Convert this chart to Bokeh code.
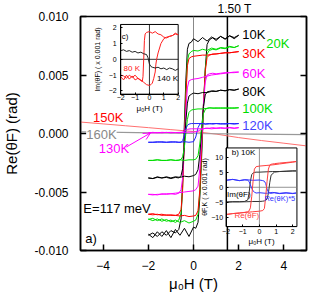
import numpy as np
from bokeh.plotting import figure
from bokeh.models import (Range1d, LinearAxis, FixedTicker, PrintfTickFormatter,
                          Label, Span, Arrow, OpenHead, CustomLabelingPolicy)
from bokeh.embed import file_html
from bokeh.resources import INLINE

FONT = "Liberation Sans"

# ---------------- panel a): Re(theta_F) loops, values in 0.001 rad ----------------
H_DN = [2.0, 1.8, 1.6, 1.4, 1.2, 1.0, 0.8, 0.6, 0.4, 0.2, 0.0, -0.1, -0.2, -0.27, -0.34,
        -0.41, -0.48, -0.55, -0.65, -0.8, -1.0, -1.2, -1.4, -1.6, -1.8, -2.0]
H_UP = [-2.0, -1.8, -1.6, -1.4, -1.2, -1.0, -0.8, -0.6, -0.4, -0.2, 0.0, 0.1, 0.2, 0.28, 0.36,
        0.44, 0.52, 0.6, 0.7, 0.85, 1.0, 1.2, 1.4, 1.6, 1.8, 2.0]

Y10_DN = [8.4, 8.1, 8.35, 8.05, 8.3, 7.95, 8.25, 7.9, 8.2, 7.85, 8.1, 7.8, 7.7, 7.2, 4.5,
          0.5, -4.0, -7.3, -8.2, -8.5, -8.3, -8.7, -8.4, -8.8, -8.5, -8.7]
Y10_UP = [-8.6, -8.9, -8.4, -8.8, -8.3, -8.9, -8.2, -8.7, -8.1, -8.8, -8.0, -8.1, -7.6, -5.5, -2.0,
          2.0, 5.5, 7.6, 8.0, 8.2, 8.05, 8.3, 8.1, 8.35, 8.2, 8.4]
Y20_DN = [7.5, 7.35, 7.45, 7.3, 7.35, 7.2, 7.3, 7.1, 7.2, 7.05, 7.1, 7.0, 6.8, 6.2, 3.5,
          -0.5, -4.5, -6.8, -7.4, -7.6, -7.4, -7.5, -7.3, -7.45, -7.25, -7.35]
Y20_UP = [-7.3, -7.45, -7.3, -7.5, -7.35, -7.55, -7.4, -7.6, -7.45, -7.65, -7.5, -7.4, -6.9, -5.0, -1.5,
          2.5, 5.5, 6.8, 7.1, 7.2, 7.15, 7.3, 7.25, 7.4, 7.35, 7.5]
Y30_DN = [7.0, 6.95, 6.9, 6.9, 6.85, 6.8, 6.75, 6.7, 6.7, 6.65, 6.6, 6.55, 6.4, 5.8, 3.0,
          -1.0, -4.8, -6.5, -6.9, -7.0, -6.95, -7.0, -6.9, -6.95, -6.85, -6.9]
Y30_UP = [-6.9, -6.95, -6.9, -7.0, -6.95, -7.0, -7.0, -7.05, -7.0, -7.1, -7.05, -7.0, -6.6, -4.8, -1.2,
          2.5, 5.3, 6.5, 6.7, 6.8, 6.8, 6.85, 6.9, 6.9, 6.95, 7.0]
Y60_DN = [5.25, 5.2, 5.2, 5.15, 5.1, 5.05, 5.0, 4.9, 4.8, 4.7, 4.65, 4.6, 4.5, 3.9, 2.0,
          -1.0, -3.8, -4.8, -5.1, -5.2, -5.15, -5.2, -5.15, -5.25, -5.2, -5.2]
Y60_UP = [-5.2, -5.25, -5.2, -5.2, -5.15, -5.15, -5.1, -5.05, -5.0, -4.95, -4.9, -4.8, -4.5, -3.0, -0.5,
          2.5, 4.4, 5.0, 5.1, 5.15, 5.1, 5.15, 5.2, 5.2, 5.25, 5.25]
Y80_DN = [3.8, 3.7, 3.75, 3.65, 3.7, 3.6, 3.6, 3.5, 3.5, 3.4, 3.45, 3.35, 3.2, 2.6, 1.0,
          -1.2, -3.0, -3.6, -3.8, -3.75, -3.85, -3.75, -3.8, -3.7, -3.85, -3.8]
Y80_UP = [-3.8, -3.85, -3.75, -3.8, -3.7, -3.8, -3.7, -3.75, -3.65, -3.7, -3.6, -3.5, -3.1, -1.8, 0.3,
          2.3, 3.3, 3.55, 3.6, 3.65, 3.6, 3.7, 3.65, 3.75, 3.7, 3.8]
Y100_DN = [2.2, 2.15, 2.2, 2.15, 2.2, 2.15, 2.2, 2.15, 2.1, 2.1, 2.05, 2.0, 1.8, 1.2, 0.0,
           -1.3, -2.0, -2.2, -2.3, -2.3, -2.25, -2.3, -2.3, -2.25, -2.3, -2.3]
Y100_UP = [-2.3, -2.3, -2.25, -2.3, -2.3, -2.25, -2.3, -2.25, -2.3, -2.25, -2.25, -2.2, -1.9, -0.9, 0.6,
           1.7, 2.05, 2.15, 2.2, 2.15, 2.2, 2.15, 2.2, 2.15, 2.2, 2.2]
Y120_DN = [0.85, 0.8, 0.85, 0.85, 0.8, 0.85, 0.85, 0.8, 0.85, 0.85, 0.85, 0.85, 0.8, 0.7, 0.4,
           -0.2, -0.6, -0.75, -0.75, -0.7, -0.75, -0.75, -0.7, -0.75, -0.75, -0.75]
Y120_UP = [-0.75, -0.75, -0.7, -0.75, -0.75, -0.7, -0.75, -0.75, -0.7, -0.75, -0.7, -0.3, 0.5, 0.8, 0.85,
           0.85, 0.8, 0.85, 0.85, 0.8, 0.85, 0.85, 0.8, 0.85, 0.85, 0.85]
Y130_DN = [0.5, 0.45, 0.5, 0.45, 0.45, 0.45, 0.4, 0.45, 0.4, 0.4, 0.4, 0.4, 0.38, 0.35, 0.28,
           0.2, 0.12, 0.08, 0.05, 0.08, 0.05, 0.1, 0.05, 0.08, 0.05, 0.05]
Y130_UP = [0.05, 0.1, 0.05, 0.1, 0.08, 0.1, 0.08, 0.1, 0.1, 0.12, 0.12, 0.15, 0.2, 0.28, 0.35,
           0.4, 0.45, 0.45, 0.45, 0.5, 0.45, 0.5, 0.45, 0.5, 0.45, 0.5]

H_150 = [-5, -4, -3, -2, -1, 0, 1, 2, 3, 4, 5]
Y_150 = [0.98, 0.82, 0.66, 0.5, 0.33, 0.17, -0.05, -0.35, -0.6, -0.83, -1.06]
H_160 = [-5, -2.5, 0, 2.5, 5]
Y_160 = [0.15, 0.08, 0.0, -0.05, -0.1]

MAIN_SERIES = [
    ("10K", Y10_DN, Y10_UP, "#000000"),
    ("20K", Y20_DN, Y20_UP, "#00dd00"),
    ("30K", Y30_DN, Y30_UP, "#ff0000"),
    ("60K", Y60_DN, Y60_UP, "#ff00ff"),
    ("80K", Y80_DN, Y80_UP, "#000000"),
    ("100K", Y100_DN, Y100_UP, "#00dd00"),
    ("120K", Y120_DN, Y120_UP, "#2222ff"),
    ("130K", Y130_DN, Y130_UP, "#ff00ff"),
]
MARK_FIELD = 1.5
X_TICKS = [-4, -2, 0, 2, 4]
Y_TICKS = [-0.010, -0.005, 0.0, 0.005, 0.010]

# ---------------- inset b): 10 K, values in 0.001 rad ----------------
B_H_DN = [2.2, 2.0, 1.6, 1.2, 0.8, 0.4, 0.0, -0.2, -0.3, -0.38, -0.46, -0.54, -0.62, -0.7, -0.9, -1.2, -1.6, -2.0]
B_H_UP = [-2.0, -1.6, -1.2, -0.8, -0.4, 0.0, 0.2, 0.3, 0.38, 0.46, 0.54, 0.62, 0.7, 0.9, 1.2, 1.6, 2.0, 2.2]
B_REF_DN = [8.5, 8.3, 8.0, 7.7, 7.4, 7.2, 7.0, 6.8, 6.0, 2.0, -3.0, -6.8, -7.8, -8.1, -8.3, -8.5, -8.7, -9.0]
B_REF_UP = [-9.0, -8.7, -8.5, -8.3, -8.1, -7.9, -7.7, -7.0, -3.0, 2.0, 6.0, 7.3, 7.6, 7.8, 8.0, 8.2, 8.4, 8.5]
B_IMF_DN = [5.4, 5.4, 5.3, 5.2, 5.2, 5.1, 5.0, 5.0, 4.9, 4.7, 4.2, 2.0, -2.0, -4.2, -4.7, -4.8, -4.8, -4.9]
B_IMF_UP = [-4.9, -4.8, -4.8, -4.8, -4.7, -4.7, -4.6, -4.5, -4.3, -3.8, -2.0, 1.5, 4.0, 5.0, 5.2, 5.3, 5.4, 5.4]
B_REK_DN = [-1.9, -2.1, -1.8, -2.0, -1.7, -2.0, -1.8, -1.9, -1.6, -1.2, -0.4, 0.8, 1.9, 2.3, 2.5, 2.2, 2.6, 2.3]
B_REK_UP = [2.3, 2.6, 2.2, 2.5, 2.3, 2.4, 2.2, 2.0, 1.2, -0.6, -1.6, -1.9, -2.0, -1.8, -2.1, -1.9, -2.0, -1.9]
B_XTICKS = [-2, -1, 0, 1, 2]
B_YTICKS = [-10, -5, 0, 5, 10]

# ---------------- inset c): Im(theta_F), values in 0.001 rad ----------------
C80_H_UP = [-2.0, -1.8, -1.6, -1.4, -1.2, -1.0, -0.8, -0.6, -0.5, -0.45, -0.4, -0.35, -0.3, -0.2,
            0.0, 0.2, 0.4, 0.6, 0.8, 1.0, 1.2, 1.4, 1.6, 1.8, 2.0]
C80_Y_UP = [-1.1, -1.3, -1.0, -1.25, -1.05, -1.3, -1.2, -1.35, -1.4, -1.1, 0.0, 1.2, 1.6, 1.7,
            1.75, 1.65, 1.75, 1.6, 1.55, 1.4, 1.35, 1.45, 1.5, 1.65, 1.55]
C80_H_DN = [2.0, 1.8, 1.6, 1.4, 1.2, 1.0, 0.8, 0.6, 0.5, 0.45, 0.4, 0.3, 0.2, 0.1,
            0.0, -0.2, -0.4, -0.6, -0.8, -1.0, -1.2, -1.4, -1.6, -1.8, -2.0]
C80_Y_DN = [1.55, 1.6, 1.5, 1.45, 1.4, 1.3, 1.0, 0.4, 0.0, -0.3, -0.8, -1.2, -1.5, -1.6,
            -1.65, -1.6, -1.45, -1.3, -1.2, -1.0, -1.15, -1.0, -1.2, -1.05, -1.0]
C140_H = [-2.0, -1.8, -1.6, -1.4, -1.2, -1.0, -0.8, -0.6, -0.4, -0.2, -0.1, 0.0, 0.1, 0.2,
          0.4, 0.6, 0.8, 1.0, 1.2, 1.4, 1.6, 1.8, 2.0]
C140_Y = [0.55, 0.6, 0.5, 0.55, 0.45, 0.5, 0.4, 0.45, 0.35, 0.3, 0.1, -0.3, -0.45, -0.5,
          -0.55, -0.5, -0.6, -0.55, -0.65, -0.55, -0.6, -0.7, -0.6]
C_TICKS = [-2, -1, 0, 1, 2]

MRAD = 1e-3

# ---------------- layout (picture pixels = figure pixels) ----------------
W, H = 312, 296
FX0, FX1, FY_TOP, FY_BOT = 75, 311, 15, 250
XR, YR = (-5.0, 5.0), (-0.010, 0.010)
C_XLIM, C_YLIM = (-2.0, 2.0), (-2.2, 2.2)
C_BOX = (117, 177, 93, 23)      # left, right, bottom, top
B_XLIM, B_YLIM = (-2.0, 2.25), (-13.0, 13.0)
B_BOX = (227, 301, 226, 147)


def px2x(px):
    return XR[0] + (px - FX0) * (XR[1] - XR[0]) / (FX1 - FX0)


def px2y(py):
    return YR[1] - (py - FY_TOP) * (YR[1] - YR[0]) / (FY_BOT - FY_TOP)


def extra_range(lo, hi, p_lo, p_hi, f_lo, f_hi):
    s = (hi - lo) / (p_hi - p_lo)
    return Range1d(start=lo + (f_lo - p_lo) * s, end=lo + (f_hi - p_lo) * s)


p = figure(width=W, height=H, output_backend="svg", toolbar_location=None,
           x_range=Range1d(*XR), y_range=Range1d(*YR),
           min_border_left=FX0, min_border_right=W - FX1,
           min_border_top=FY_TOP, min_border_bottom=H - FY_BOT,
           background_fill_color="white", border_fill_color="white")
p.grid.visible = False
p.outline_line_color = "black"
p.outline_line_width = 1.5

# "1.50 T" marker caption above the frame
p.title.text = "1.50 T"
p.title.text_font = FONT
p.title.text_font_size = "12px"
p.title.text_font_style = "normal"
p.title.text_color = "black"
p.title.align = "left"
p.title.offset = 212 - FX0
p.title.standoff = 0
p.title.vertical_align = "middle"

p.extra_x_ranges = {
    "cx": extra_range(C_XLIM[0], C_XLIM[1], C_BOX[0], C_BOX[1], FX0, FX1),
    "bx": extra_range(B_XLIM[0], B_XLIM[1], B_BOX[0], B_BOX[1], FX0, FX1),
}
p.extra_y_ranges = {
    "cy": extra_range(C_YLIM[0], C_YLIM[1], C_BOX[2], C_BOX[3], FY_BOT, FY_TOP),
    "by": extra_range(B_YLIM[0], B_YLIM[1], B_BOX[2], B_BOX[3], FY_BOT, FY_TOP),
}


def style_axis(ax, size, standoff, tick_in, lw=1.5):
    ax.axis_line_color = "black"
    ax.axis_line_width = lw
    ax.major_tick_line_color = "black"
    ax.major_tick_line_width = lw
    ax.major_tick_in = tick_in
    ax.major_tick_out = 0
    ax.minor_tick_line_color = None
    ax.major_label_text_font = FONT
    ax.major_label_text_font_size = f"{size}px"
    ax.major_label_text_color = "black"
    ax.major_label_standoff = standoff
    ax.axis_label_text_font = FONT
    ax.axis_label_text_font_style = "normal"
    ax.axis_label_text_color = "black"


xa = p.xaxis[0]
xa.ticker = FixedTicker(ticks=X_TICKS)
style_axis(xa, 12, 10, 6)
xa.axis_label = "μ₀H (T)"
xa.axis_label_text_font_size = "15px"
xa.axis_label_standoff = 2

ya = p.yaxis[0]
ya.ticker = FixedTicker(ticks=Y_TICKS)
ya.formatter = PrintfTickFormatter(format="%.3f")
style_axis(ya, 12, 12, 6)
ya.axis_label = "Re(θF) (rad)"
ya.axis_label_text_font_size = "15px"
ya.axis_label_standoff = 11

NO_LABELS = CustomLabelingPolicy(code="return new Set()")
right = LinearAxis(ticker=FixedTicker(ticks=Y_TICKS), major_label_policy=NO_LABELS)
style_axis(right, 1, 0, 6)
p.add_layout(right, "right")

p.add_layout(Span(location=0, dimension="height", line_color="#888888", line_width=1, level="underlay"))
p.add_layout(Span(location=MARK_FIELD, dimension="height", line_color="black", line_width=1.5, level="underlay"))

# main data
p.line(H_150, np.array(Y_150) * MRAD, line_color="#ff7070", line_width=1)
p.line(H_160, np.array(Y_160) * MRAD, line_color="#999999", line_width=1.2)
for name, ydn, yup, col in MAIN_SERIES:
    p.line(H_DN, np.array(ydn) * MRAD, line_color=col, line_width=1)
    p.line(H_UP, np.array(yup) * MRAD, line_color=col, line_width=1)


def label(text, x, y, color="black", size=13, xr="default", yr="default", align="left", bg=None,
          **kw):
    lb = Label(x=x, y=y, text=text, text_font=FONT, text_font_size=f"{size}px", text_color=color,
               text_align=align, text_baseline="middle", x_range_name=xr, y_range_name=yr, **kw)
    if bg is not None:
        lb.background_fill_color = bg
    p.add_layout(lb)


label("10K", px2x(244), px2y(33))
label("20K", px2x(269), px2y(42), "#00dd00")
label("30K", px2x(244), px2y(52), "#ff0000")
label("60K", px2x(244), px2y(72), "#ff00ff")
label("80K", px2x(244), px2y(90))
label("100K", px2x(244), px2y(107), "#00dd00")
label("120K", px2x(244), px2y(124), "#4444ff")
label("150K", px2x(88), px2y(116), "#ff0000")
label("160K", px2x(81), px2y(134), "#888888", bg="white")
label("130K", px2x(94), px2y(148), "#ff00ff")
label("E=117 meV", px2x(78), px2y(208))
label("a)", px2x(80), px2y(238))
p.add_layout(Arrow(end=OpenHead(size=7, line_color="#ff00ff", line_width=1),
                   x_start=px2x(123), y_start=px2y(146), x_end=px2x(148), y_end=px2y(132),
                   line_color="#ff00ff", line_width=1))


def inset(xr, yr, xlim, ylim, xticks, yticks, xlabel, ylabel, zero_col, xls, yls):
    p.quad(left=[xlim[0]], right=[xlim[1]], bottom=[ylim[0]], top=[ylim[1]],
           x_range_name=xr, y_range_name=yr, fill_color="white", line_color="black", line_width=1)
    p.segment(x0=[0, xlim[0]], y0=[ylim[0], 0], x1=[0, xlim[1]], y1=[ylim[1], 0],
              x_range_name=xr, y_range_name=yr, line_color=zero_col, line_width=0.8)
    ax = LinearAxis(x_range_name=xr, y_range_name=yr, fixed_location=ylim[0], bounds=xlim,
                    ticker=FixedTicker(ticks=xticks), axis_label=xlabel)
    style_axis(ax, 7, xls[0], 2, lw=1)
    ax.axis_label_text_font_size = "8px"
    ax.axis_label_standoff = xls[1]
    p.add_layout(ax, "below")
    ay = LinearAxis(x_range_name=xr, y_range_name=yr, fixed_location=xlim[0], bounds=ylim,
                    ticker=FixedTicker(ticks=yticks), axis_label=ylabel)
    style_axis(ay, 7, yls[0], 2, lw=1)
    ay.axis_label_text_font_size = "7px"
    ay.axis_label_standoff = yls[1]
    p.add_layout(ay, "left")


# inset c
inset("cx", "cy", C_XLIM, C_YLIM, C_TICKS, C_TICKS, "μ₀H (T)", "Im(θF) ( x 0.001 rad)", "black",
      (1, 0), (4, 5))
p.line(C80_H_UP, C80_Y_UP, x_range_name="cx", y_range_name="cy", line_color="#ff2020", line_width=1)
p.line(C80_H_DN, C80_Y_DN, x_range_name="cx", y_range_name="cy", line_color="#ff2020", line_width=1)
p.line(C140_H, C140_Y, x_range_name="cx", y_range_name="cy", line_color="#222222", line_width=1)
label("c)", -1.93, 1.45, size=8, xr="cx", yr="cy")
label("80 K", -1.8, -0.57, "#ff2020", size=8, xr="cx", yr="cy")
label("140 K", 0.53, -1.2, size=8, xr="cx", yr="cy")

# inset b
inset("bx", "by", B_XLIM, B_YLIM, B_XTICKS, B_YTICKS, "μ₀H (T)", "θF,K ( x 0.001 rad)", "#777777",
      (2, 0), (3, 1))
p.line(B_H_DN, B_IMF_DN, x_range_name="bx", y_range_name="by", line_color="#333333", line_width=1)
p.line(B_H_UP, B_IMF_UP, x_range_name="bx", y_range_name="by", line_color="#333333", line_width=1)
p.line(B_H_DN, B_REK_DN, x_range_name="bx", y_range_name="by", line_color="#3333ff", line_width=1)
p.line(B_H_UP, B_REK_UP, x_range_name="bx", y_range_name="by", line_color="#3333ff", line_width=1)
p.line(B_H_DN, B_REF_DN, x_range_name="bx", y_range_name="by", line_color="#ff4040", line_width=1)
p.line(B_H_UP, B_REF_UP, x_range_name="bx", y_range_name="by", line_color="#ff4040", line_width=1)
label("b) 10K", -1.66, 11.35, size=8, xr="bx", yr="by")
label("Im(θF)", -1.94, -2.3, size=8, xr="bx", yr="by")
label("Re(θK)*5", 0.3, -3.8, "#3333ff", size=7.5, xr="bx", yr="by")
label("Re(θF)", -1.5, -9.4, "#ff4040", size=8, xr="bx", yr="by")

open("out.html", "w").write(file_html(p, INLINE))
